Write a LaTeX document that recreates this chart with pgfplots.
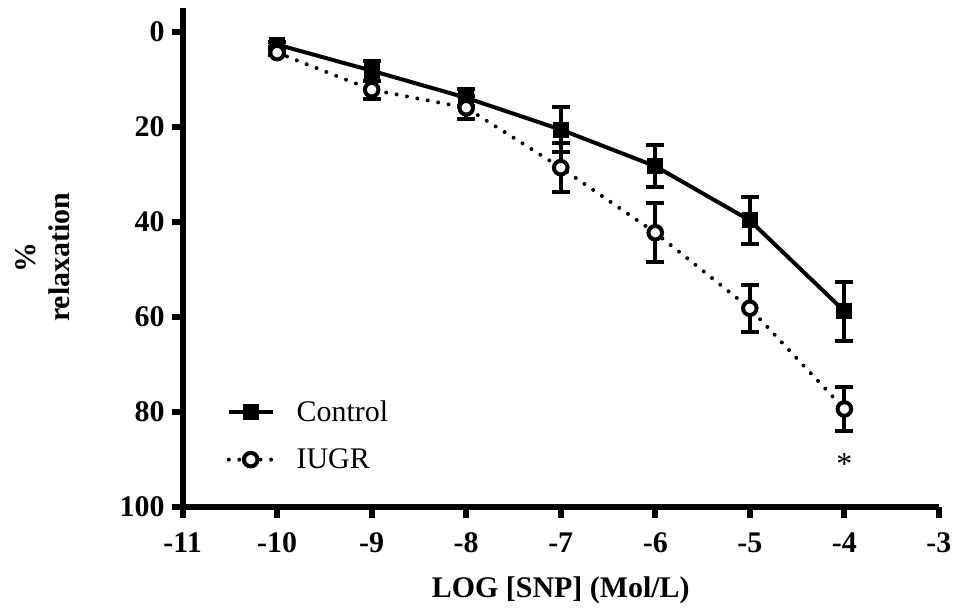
\documentclass[border=0pt]{standalone}
\usepackage{fontspec}
\setmainfont{Liberation Serif}
\usepackage{pgfplots}
\pgfplotsset{compat=1.18}
\begin{document}
\begin{tikzpicture}
\begin{axis}[
  width=379pt, height=250pt,
  scale only axis,
  xmin=-11, xmax=-3,
  ymin=-5, ymax=100,
  y dir=reverse,
  axis x line*=bottom,
  axis y line*=left,
  axis line style={line width=3pt, -},
  xtick={-11,-10,...,-3},
  ytick={0,20,40,60,80,100},
  tick align=outside,
  major tick length=5.5pt,
  every tick/.style={line width=3pt, black},
  /pgf/number format/assume math mode=true,
  ticklabel style={font=\fontsize{15}{17}\selectfont\bfseries},
  xticklabel style={yshift=-4pt},
  xlabel={LOG [SNP] (Mol/L)},
  ylabel={\%\\relaxation},
  xlabel style={font=\fontsize{15}{17}\selectfont\bfseries, yshift=-5pt},
  ylabel style={font=\fontsize{15}{17}\selectfont\bfseries, align=center, yshift=18pt},
  legend style={at={(0.05,0.23)}, anchor=north west, draw=none, fill=none,
    font=\fontsize{15}{17}\selectfont, row sep=8pt},
  legend image code/.code={%
    \draw[mark repeat=2, mark phase=2, #1]
      plot coordinates {(0pt,0pt) (11pt,0pt) (22pt,0pt)};
    \path (31pt,0pt);},
  legend cell align=left,
  clip=false,
]
\addplot+[black, line width=2pt, mark=square*, mark size=3pt,
  mark options={solid, fill=black},
  error bars/.cd, y dir=both, y explicit,
  error bar style={line width=2pt, solid},
  error mark options={rotate=90, mark size=4.5pt, line width=2pt}]
  coordinates {
    (-10,2.7) +- (0,0.5)
    (-9,8.2) +- (0,2.1)
    (-8,13.9) +- (0,1.8)
    (-7,20.6) +- (0,4.7)
    (-6,28.3) +- (0,4.4)
    (-5,39.7) +- (0,5.0)
    (-4,58.8) +- (0,6.2)
  };
\addlegendentry{Control}
\addplot+[black, line width=2pt, line cap=round, dash pattern=on 0pt off 5.3pt,
  mark=*, mark size=3.4pt,
  mark options={solid, fill=white, line width=2pt},
  error bars/.cd, y dir=both, y explicit,
  error bar style={line width=2pt, solid, line cap=butt},
  error mark options={rotate=90, mark size=4.5pt, line width=2pt}]
  coordinates {
    (-10,4.4) +- (0,0.5)
    (-9,12.2) +- (0,1.9)
    (-8,16.0) +- (0,2.4)
    (-7,28.6) +- (0,5.2)
    (-6,42.3) +- (0,6.2)
    (-5,58.2) +- (0,4.9)
    (-4,79.4) +- (0,4.6)
  };
\addlegendentry{IUGR}
\node[font=\fontsize{16}{18}\selectfont] at (axis cs:-4,91) {*};
\path (rel axis cs:0,0.5) ++(-91.5pt,0pt);
\path (rel axis cs:0,1) ++(0pt,4pt);
\end{axis}
\end{tikzpicture}
\end{document}
